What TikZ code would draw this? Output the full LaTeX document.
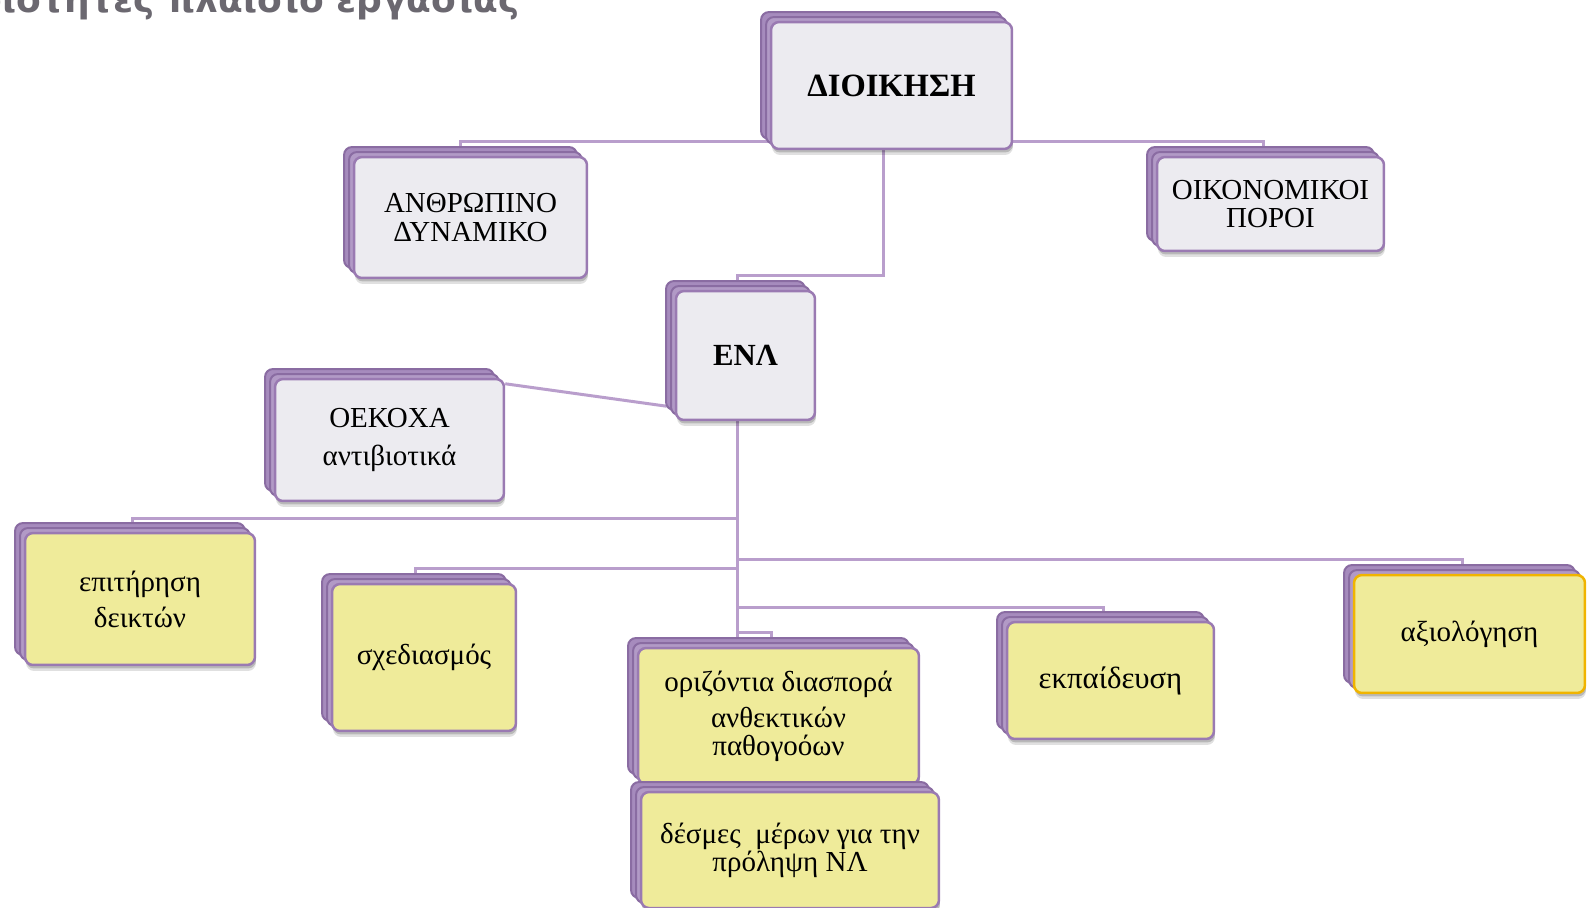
\documentclass[tikz,border=0pt]{standalone}
\usepackage{fontspec}
\setmainfont{Liberation Serif}
\newfontfamily\titlefont{DejaVu Sans}
\usetikzlibrary{shadows,backgrounds,calc}
\definecolor{boxedge}{HTML}{9A7AB2}
\definecolor{backfill}{HTML}{A68BBD}
\definecolor{backfillb}{HTML}{B29AC6}
\definecolor{backedge}{HTML}{8A6CA2}
\definecolor{frontgray}{HTML}{ECEBF0}
\definecolor{frontyellow}{HTML}{EFEB9A}
\definecolor{goldedge}{HTML}{F0B400}
\definecolor{conncol}{HTML}{B99ECC}
\definecolor{titlegray}{HTML}{6B6870}
\tikzset{
  box/.style={rounded corners=0.16cm, draw=boxedge, line width=0.05cm, align=center,
    inner sep=0pt, font=\fontsize{16.5}{16}\selectfont,
    drop shadow={shadow xshift=0.02cm, shadow yshift=-0.12cm, opacity=0.12, fill=black},
    drop shadow={shadow xshift=0.02cm, shadow yshift=-0.07cm, opacity=0.18, fill=black},
    copy shadow={shadow xshift=-0.2cm, shadow yshift=0.2cm, fill=backfill, draw=backedge, line width=0.04cm},
    copy shadow={shadow xshift=-0.1cm, shadow yshift=0.1cm, fill=backfillb, draw=backedge, line width=0.04cm}},
  gbox/.style={box, fill=frontgray},
  ybox/.style={box, fill=frontyellow},
  conn/.style={draw=conncol, line width=0.06cm}
}
\begin{document}
\begin{tikzpicture}[x=0.02cm,y=-0.02cm]
\useasboundingbox (0,0) rectangle (1587,907);
\node[anchor=base east, font=\titlefont\bfseries\fontsize{20.5}{24}\selectfont, text=titlegray] (title) at (526,12) {Δραστηριότητες πλαίσιο εργασίας};

\node[gbox, minimum width=4.82cm, minimum height=2.54cm, font=\fontsize{18.5}{18}\selectfont\bfseries] (diok) at (891.5,85.5) {ΔΙΟΙΚΗΣΗ};
\node[gbox, minimum width=4.66cm, minimum height=2.42cm] (anth) at (470.5,217.5) {ΑΝΘΡΩΠΙΝΟ\\ΔΥΝΑΜΙΚΟ};
\node[gbox, minimum width=4.54cm, minimum height=1.88cm] (oik) at (1270.5,204) {ΟΙΚΟΝΟΜΙΚΟΙ\\ΠΟΡΟΙ};
\node[gbox, minimum width=2.78cm, minimum height=2.58cm, font=\fontsize{17.5}{18}\selectfont\bfseries] (ena) at (745.5,355.5) {ΕΝΛ};
\node[gbox, minimum width=4.58cm, minimum height=2.44cm] (oek) at (389.5,440) {ΟΕΚΟΧΑ\\[6pt]αντιβιοτικά};
\node[ybox, minimum width=4.6cm, minimum height=2.64cm] (epit) at (140,599) {επιτήρηση\\[4.5pt]δεικτών};
\node[ybox, minimum width=3.68cm, minimum height=2.94cm] (sxed) at (424,657.5) {σχεδιασμός};
\node[ybox, minimum width=5.62cm, minimum height=2.72cm] (oriz) at (778.5,716) {οριζόντια διασπορά\\[4.5pt]ανθεκτικών\\παθογοόων};
\node[ybox, minimum width=5.96cm, minimum height=2.32cm] (desm) at (790,850) {δέσμες\ \ μέρων για την\\πρόληψη ΝΛ};
\node[ybox, minimum width=4.14cm, minimum height=2.34cm, font=\fontsize{17.5}{18}\selectfont] (ekp) at (1110.5,680.5) {εκπαίδευση};
\node[ybox, draw=goldedge, minimum width=4.62cm, minimum height=2.36cm] (axi) at (1469.5,634) {αξιολόγηση};

\begin{scope}[on background layer]
\coordinate (c1) at (460,141);
\coordinate (c2) at (1263,141);
\coordinate (c3) at (883,275);
\coordinate (c4) at (737,275);
\coordinate (b1) at (132,518);
\coordinate (b2) at (415,568);
\coordinate (b3) at (1462,559);
\coordinate (b4) at (1103,607);
\coordinate (j1) at (737,632);
\coordinate (j2) at (771,632);
\draw[conn] (anth.north -| c1) -- (c1) -- (c2) -- (oik.north -| c2);
\draw[conn] (diok.south -| c3) -- (c3) -- (c4) -- (ena.north -| c4);
\draw[conn] ($(oek.north east)+(0,6)$) -- ($(ena.south west)+(-8,-15)$);
\draw[conn] (ena.south -| c4) -- (oriz.north -| c4);
\draw[conn] (j1) -- (j2) -- (oriz.north -| j2);
\draw[conn] (epit.north -| b1) -- (b1) -- (b1 -| c4);
\draw[conn] (sxed.north -| b2) -- (b2) -- (b2 -| c4);
\draw[conn] (axi.north -| b3) -- (b3) -- (b3 -| c4);
\draw[conn] (ekp.north -| b4) -- (b4) -- (b4 -| c4);
\end{scope}
\end{tikzpicture}
\end{document}
